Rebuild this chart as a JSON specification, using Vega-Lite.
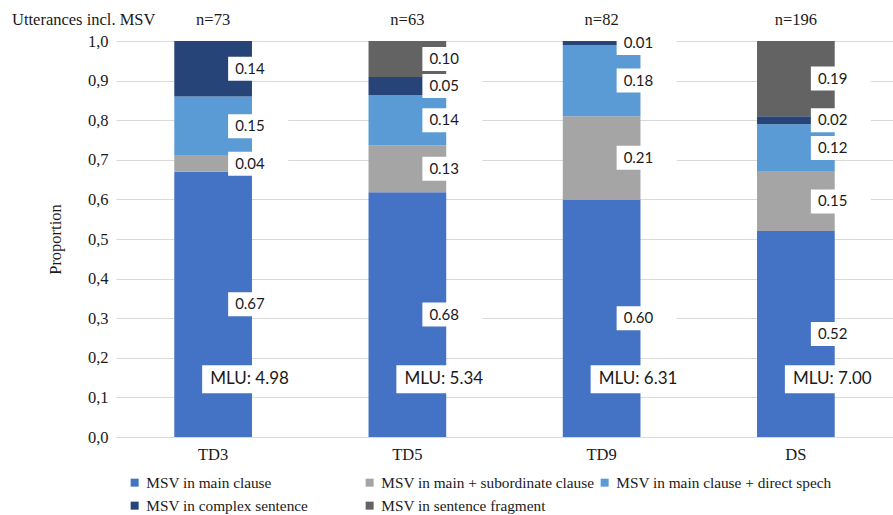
{
  "$schema": "https://vega.github.io/schema/vega-lite/v6.json",
  "width": 777,
  "height": 396,
  "autosize": {"type": "none"},
  "padding": {"left": 116, "top": 41, "right": 0, "bottom": 78},
  "background": "white",
  "config": {
    "view": {"stroke": null},
    "axisY": {
      "grid": true, "gridColor": "#d9d9d9", "gridWidth": 1.2,
      "domain": false, "ticks": false, "tickCount": 10, "labelOverlap": false,
      "labelFont": "Liberation Serif", "labelFontSize": 16.5, "labelColor": "#1a1a1a", "labelPadding": 8,
      "titleFont": "Liberation Serif", "titleFontSize": 16.5, "titleFontWeight": "normal", "titleColor": "#1a1a1a", "titlePadding": 24
    }
  },
  "title": {"text": "Utterances incl. MSV", "anchor": "start", "frame": "group", "dx": -104, "dy": 16, "offset": 0, "font": "Liberation Serif", "fontSize": 16.5, "fontWeight": "normal", "color": "#1a1a1a"},
  "datasets": {
    "segments": [
      {"group": "TD3", "cat": "MSV in main clause", "k": 1, "value": 0.67},
      {"group": "TD3", "cat": "MSV in main + subordinate clause", "k": 2, "value": 0.04},
      {"group": "TD3", "cat": "MSV in main clause + direct spech", "k": 3, "value": 0.15},
      {"group": "TD3", "cat": "MSV in complex sentence", "k": 4, "value": 0.14},
      {"group": "TD5", "cat": "MSV in main clause", "k": 1, "value": 0.68},
      {"group": "TD5", "cat": "MSV in main + subordinate clause", "k": 2, "value": 0.13},
      {"group": "TD5", "cat": "MSV in main clause + direct spech", "k": 3, "value": 0.14},
      {"group": "TD5", "cat": "MSV in complex sentence", "k": 4, "value": 0.05},
      {"group": "TD5", "cat": "MSV in sentence fragment", "k": 5, "value": 0.10},
      {"group": "TD9", "cat": "MSV in main clause", "k": 1, "value": 0.60},
      {"group": "TD9", "cat": "MSV in main + subordinate clause", "k": 2, "value": 0.21},
      {"group": "TD9", "cat": "MSV in main clause + direct spech", "k": 3, "value": 0.18},
      {"group": "TD9", "cat": "MSV in complex sentence", "k": 4, "value": 0.01},
      {"group": "DS", "cat": "MSV in main clause", "k": 1, "value": 0.52},
      {"group": "DS", "cat": "MSV in main + subordinate clause", "k": 2, "value": 0.15},
      {"group": "DS", "cat": "MSV in main clause + direct spech", "k": 3, "value": 0.12},
      {"group": "DS", "cat": "MSV in complex sentence", "k": 4, "value": 0.02},
      {"group": "DS", "cat": "MSV in sentence fragment", "k": 5, "value": 0.19}
    ],
    "groups": [
      {"group": "TD3", "n": 73, "mlu": 4.98},
      {"group": "TD5", "n": 63, "mlu": 5.34},
      {"group": "TD9", "n": 82, "mlu": 6.31},
      {"group": "DS", "n": 196, "mlu": 7.00}
    ]
  },
  "encoding": {
    "x": {
      "field": "group", "type": "nominal", "sort": ["TD3", "TD5", "TD9", "DS"],
      "scale": {"paddingInner": 0.6, "paddingOuter": 0.3},
      "axis": {"title": null, "labelAngle": 0, "labelFont": "Liberation Serif", "labelFontSize": 16.5, "labelColor": "#1a1a1a", "labelPadding": 9, "domain": false, "ticks": false, "grid": false}
    }
  },
  "layer": [
    {
      "data": {"name": "segments"},
      "transform": [
        {"stack": "value", "groupby": ["group"], "sort": [{"field": "k", "order": "ascending"}], "offset": "normalize", "as": ["y0", "y1"]}
      ],
      "mark": {"type": "bar"},
      "encoding": {
        "y": {
          "field": "y0", "type": "quantitative", "title": "Proportion",
          "scale": {"domain": [0, 1], "nice": false},
          "axis": {
            "title": "Proportion",
            "labelExpr": "replace(format(datum.value, '.1f'), '.', ',')"
          }
        },
        "y2": {"field": "y1"},
        "color": {
          "field": "cat", "type": "nominal",
          "scale": {
            "domain": ["MSV in main clause", "MSV in main + subordinate clause", "MSV in main clause + direct spech", "MSV in complex sentence", "MSV in sentence fragment"],
            "range": ["#4472C4", "#A5A5A5", "#5B9BD5", "#264478", "#636363"]
          },
          "legend": {
            "title": null, "orient": "none", "legendX": 11, "legendY": 434,
            "direction": "horizontal", "columns": 3, "gridAlign": "all",
            "symbolType": "square", "symbolSize": 64, "symbolStrokeWidth": 0,
            "labelFont": "Liberation Serif", "labelFontSize": 15.3, "labelColor": "#1a1a1a",
            "labelOffset": 4, "columnPadding": 0, "rowPadding": 7, "labelLimit": 400, "padding": 0
          }
        }
      }
    },
    {
      "data": {"name": "segments"},
      "transform": [
        {"stack": "value", "groupby": ["group"], "sort": [{"field": "k", "order": "ascending"}], "offset": "normalize", "as": ["y0", "y1"]},
        {"calculate": "(datum.y0 + datum.y1) / 2", "as": "mid"}
      ],
      "mark": {"type": "point", "shape": "M15,-12H75V12H15Z", "size": 4, "filled": true, "color": "white", "opacity": 1, "strokeWidth": 0},
      "encoding": {
        "y": {"field": "mid", "type": "quantitative", "title": "Proportion", "scale": {"domain": [0, 1], "nice": false}}
      }
    },
    {
      "data": {"name": "segments"},
      "transform": [
        {"stack": "value", "groupby": ["group"], "sort": [{"field": "k", "order": "ascending"}], "offset": "normalize", "as": ["y0", "y1"]},
        {"calculate": "(datum.y0 + datum.y1) / 2", "as": "mid"}
      ],
      "mark": {"type": "text", "align": "left", "baseline": "middle", "dx": 22, "font": "Lato", "fontSize": 15, "color": "#1a1a1a"},
      "encoding": {
        "y": {"field": "mid", "type": "quantitative", "title": "Proportion", "scale": {"domain": [0, 1], "nice": false}},
        "text": {"field": "value", "type": "quantitative", "format": ".2f"}
      }
    },
    {
      "data": {"name": "groups"},
      "mark": {"type": "point", "shape": "M-11,-14H80V14H-11Z", "size": 4, "filled": true, "color": "white", "opacity": 1, "strokeWidth": 0},
      "encoding": {
        "y": {"datum": 0.146, "type": "quantitative", "title": "Proportion", "scale": {"domain": [0, 1], "nice": false}}
      }
    },
    {
      "data": {"name": "groups"},
      "transform": [{"calculate": "'MLU: ' + format(datum.mlu, '.2f')", "as": "mluText"}],
      "mark": {"type": "text", "align": "left", "baseline": "middle", "dx": -3, "font": "Lato", "fontSize": 17, "color": "#1a1a1a"},
      "encoding": {
        "y": {"datum": 0.146, "type": "quantitative", "title": "Proportion", "scale": {"domain": [0, 1], "nice": false}},
        "text": {"field": "mluText", "type": "nominal"}
      }
    },
    {
      "data": {"name": "groups"},
      "transform": [{"calculate": "'n=' + datum.n", "as": "nText"}],
      "mark": {"type": "text", "align": "center", "baseline": "middle", "font": "Liberation Serif", "fontSize": 16.5, "color": "#1a1a1a"},
      "encoding": {
        "y": {"datum": 1.053, "type": "quantitative", "title": "Proportion", "scale": {"domain": [0, 1], "nice": false}},
        "text": {"field": "nText", "type": "nominal"}
      }
    }
  ]
}
